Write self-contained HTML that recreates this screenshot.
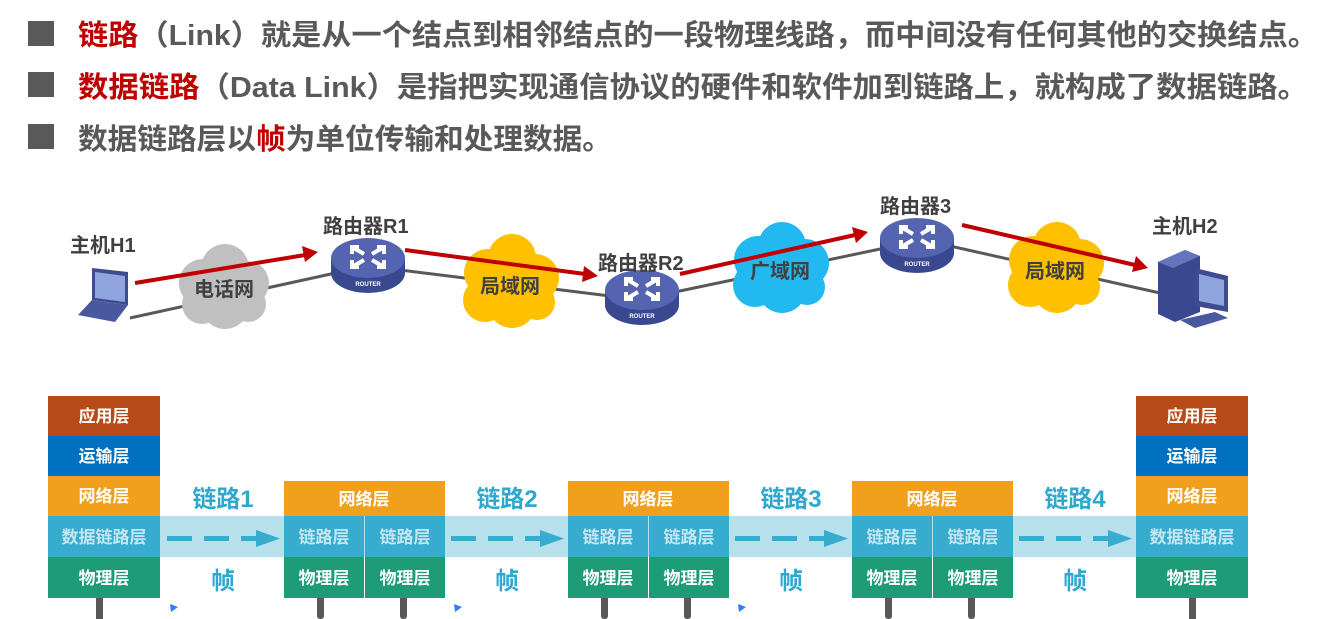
<!DOCTYPE html>
<html><head><meta charset="utf-8"><style>
body{margin:0;background:#fff;}
svg{display:block;font-family:"Liberation Sans","Noto Sans CJK SC",sans-serif;font-weight:bold;}
</style></head><body>
<svg width="1330" height="619" viewBox="0 0 1330 619" xmlns="http://www.w3.org/2000/svg">
<defs>
<g id="router">
<path d="M-37,0 L-37,15 A37,20 0 0 0 37,15 L37,0 Z" fill="#3a4890"/>
<ellipse cx="0" cy="0" rx="37" ry="20" fill="#5564b0"/>
<g stroke="#fff" stroke-width="4" fill="none">
<path d="M-16,-11 L-4,-4 M-16,-4 L-16,-11 L-9,-11"/>
<path d="M16,-11 L4,-4 M9,-11 L16,-11 L16,-4"/>
<path d="M-16,9 L-4,2 M-16,2 L-16,9 L-9,9"/>
<path d="M16,9 L4,2 M16,2 L16,9 L9,9"/>
</g>
<text x="0" y="28" font-size="6" fill="#fff" text-anchor="middle">ROUTER</text>
</g>
</defs>
<g fill="#595959">
<rect x="28" y="21" width="26" height="25"/>
<rect x="28" y="72" width="26" height="25"/>
<rect x="28" y="124" width="26" height="25"/>
</g>
<g font-size="29" fill="#595959">
<text x="78" y="45" textLength="1240" lengthAdjust="spacingAndGlyphs"><tspan fill="#c00000">链路</tspan>（Link）就是从一个结点到相邻结点的一段物理线路，而中间没有任何其他的交换结点。</text>
<text x="78" y="97" textLength="1230" lengthAdjust="spacingAndGlyphs"><tspan fill="#c00000">数据链路</tspan>（Data Link）是指把实现通信协议的硬件和软件加到链路上，就构成了数据链路。</text>
<text x="78" y="149" textLength="534" lengthAdjust="spacingAndGlyphs">数据链路层以<tspan fill="#c00000">帧</tspan>为单位传输和处理数据。</text>
</g>
<g stroke="#595959" stroke-width="3" fill="none">
<path d="M130,318 L340,272"/>
<path d="M400,270 L610,296"/>
<path d="M675,292 L885,248"/>
<path d="M950,246 L1160,293"/>
</g>
<g fill="#c0c0c0">
<circle cx="203" cy="283" r="24"/><circle cx="225" cy="268" r="24"/><circle cx="247" cy="283" r="22"/><circle cx="225" cy="305" r="24"/><circle cx="202" cy="304" r="20"/><circle cx="248" cy="304" r="18"/>
</g>
<g fill="#ffc000">
<circle cx="488" cy="273" r="24"/><circle cx="512" cy="258" r="24"/><circle cx="535" cy="278" r="24"/><circle cx="512" cy="304" r="24"/><circle cx="485" cy="300" r="22"/><circle cx="537" cy="302" r="18"/>
<circle cx="1033" cy="260" r="24"/><circle cx="1057" cy="246" r="24"/><circle cx="1080" cy="263" r="24"/><circle cx="1057" cy="289" r="24"/><circle cx="1030" cy="285" r="22"/><circle cx="1082" cy="287" r="18"/>
</g>
<g fill="#22b8f0">
<circle cx="758" cy="260" r="24"/><circle cx="782" cy="246" r="24"/><circle cx="805" cy="263" r="24"/><circle cx="782" cy="289" r="24"/><circle cx="755" cy="285" r="22"/><circle cx="807" cy="287" r="18"/>
</g>
<g font-size="20" fill="#404040" text-anchor="middle">
<text x="224" y="296">电话网</text>
<text x="510" y="293">局域网</text>
<text x="780" y="278">广域网</text>
<text x="1055" y="278">局域网</text>
</g>
<use href="#router" x="368" y="258"/>
<use href="#router" x="642" y="290"/>
<use href="#router" x="917" y="238"/>
<g>
<path d="M92,268 L128,272 L128,305 L92,300 Z" fill="#3e4b90"/>
<path d="M95,272 L125,276 L125,302 L95,298 Z" fill="#8fa3dc"/>
<path d="M92,300 L128,305 L115,322 L78,315 Z" fill="#4a58a0"/>
</g>
<g>
<path d="M1158,262 L1185,250 L1200,256 L1200,312 L1175,322 L1158,314 Z" fill="#3a4890"/>
<path d="M1158,262 L1185,250 L1200,256 L1173,268 Z" fill="#6575bd"/>
<path d="M1195,268 L1228,276 L1228,312 L1195,306 Z" fill="#3e4b90"/>
<path d="M1199,274 L1224,280 L1224,306 L1199,301 Z" fill="#8fa3dc"/>
<path d="M1180,320 L1215,312 L1228,318 L1195,328 Z" fill="#4a58a0"/>
</g>
<g stroke="#c00000" stroke-width="4" fill="none">
<path d="M135,283 L305,255"/>
<path d="M405,250 L585,274"/>
<path d="M680,274 L855,235"/>
<path d="M962,225 L1135,265"/>
</g>
<g fill="#c00000">
<path d="M318,252 L302,246 L305,262 Z"/>
<path d="M598,276 L584,266 L582,282 Z"/>
<path d="M868,232 L852,227 L856,243 Z"/>
<path d="M1148,268 L1136,256 L1132,272 Z"/>
</g>
<g font-size="20" fill="#404040">
<text x="70" y="252">主机H1</text>
<text x="323" y="233">路由器R1</text>
<text x="598" y="270">路由器R2</text>
<text x="880" y="213">路由器3</text>
<text x="1152" y="233">主机H2</text>
</g>
<rect x="160" y="516" width="976" height="41" fill="#b6e0ec"/>
<g fill="#595959">
<rect x="96" y="598" width="7" height="21"/><rect x="1189" y="598" width="7" height="21"/>
<rect x="317" y="590" width="7" height="29" rx="3"/><rect x="400" y="590" width="7" height="29" rx="3"/>
<rect x="601" y="590" width="7" height="29" rx="3"/><rect x="684" y="590" width="7" height="29" rx="3"/>
<rect x="885" y="590" width="7" height="29" rx="3"/><rect x="968" y="590" width="7" height="29" rx="3"/>
</g>
<g fill="#2d7ef7"><path d="M170,604 L178,607 L171,612Z"/><path d="M454,604 L462,607 L455,612Z"/><path d="M738,604 L746,607 L739,612Z"/></g>
<g font-size="17" text-anchor="middle">
<rect x="48" y="396" width="112" height="40" fill="#b84a17"/>
<rect x="48" y="436" width="112" height="40" fill="#0070c0"/>
<rect x="48" y="476" width="112" height="40" fill="#f0a01c"/>
<rect x="48" y="516" width="112" height="41" fill="#37acce"/>
<rect x="48" y="557" width="112" height="41" fill="#1e9c78"/>
<text x="104" y="422" fill="#fff">应用层</text>
<text x="104" y="462" fill="#fff">运输层</text>
<text x="104" y="502" fill="#fff">网络层</text>
<text x="104" y="543" fill="#c4e6f2">数据链路层</text>
<text x="104" y="584" fill="#fff">物理层</text>
<rect x="1136" y="396" width="112" height="40" fill="#b84a17"/>
<rect x="1136" y="436" width="112" height="40" fill="#0070c0"/>
<rect x="1136" y="476" width="112" height="40" fill="#f0a01c"/>
<rect x="1136" y="516" width="112" height="41" fill="#37acce"/>
<rect x="1136" y="557" width="112" height="41" fill="#1e9c78"/>
<text x="1192" y="422" fill="#fff">应用层</text>
<text x="1192" y="462" fill="#fff">运输层</text>
<text x="1192" y="502" fill="#fff">网络层</text>
<text x="1192" y="543" fill="#c4e6f2">数据链路层</text>
<text x="1192" y="584" fill="#fff">物理层</text>
</g>
<g font-size="17" text-anchor="middle">
<g id="mid">
<rect x="284" y="481" width="161" height="35" fill="#f0a01c"/>
<rect x="284" y="516" width="80" height="41" fill="#37acce"/>
<rect x="365" y="516" width="80" height="41" fill="#37acce"/>
<rect x="284" y="557" width="80" height="41" fill="#1e9c78"/>
<rect x="365" y="557" width="80" height="41" fill="#1e9c78"/>
<text x="364" y="505" fill="#fff">网络层</text>
<text x="324" y="543" fill="#c4e6f2">链路层</text>
<text x="405" y="543" fill="#c4e6f2">链路层</text>
<text x="324" y="584" fill="#fff">物理层</text>
<text x="405" y="584" fill="#fff">物理层</text>
</g>
<use href="#mid" x="284"/>
<use href="#mid" x="568"/>
</g>
<g id="lnk">
<text x="223" y="507" font-size="24" fill="#2fa8cf" text-anchor="middle">链路1</text>
<text x="223" y="589" font-size="24" fill="#2fa8cf" text-anchor="middle">帧</text>
<g fill="#37acce"><rect x="167" y="536" width="25" height="5"/><rect x="204" y="536" width="25" height="5"/><rect x="241" y="536" width="17" height="5"/><path d="M256,530 L280,538.5 L256,547 Z"/></g>
</g>
<g>
<use href="#lnk" x="284"/><use href="#lnk" x="568"/><use href="#lnk" x="852"/>
</g>
<rect x="460" y="480" width="100" height="30" fill="#fff"/>
<rect x="744" y="480" width="100" height="30" fill="#fff"/>
<rect x="1028" y="480" width="100" height="30" fill="#fff"/>
<g font-size="24" fill="#2fa8cf" text-anchor="middle">
<text x="507" y="507">链路2</text><text x="791" y="507">链路3</text><text x="1075" y="507">链路4</text>
</g>
</svg>
</body></html>
